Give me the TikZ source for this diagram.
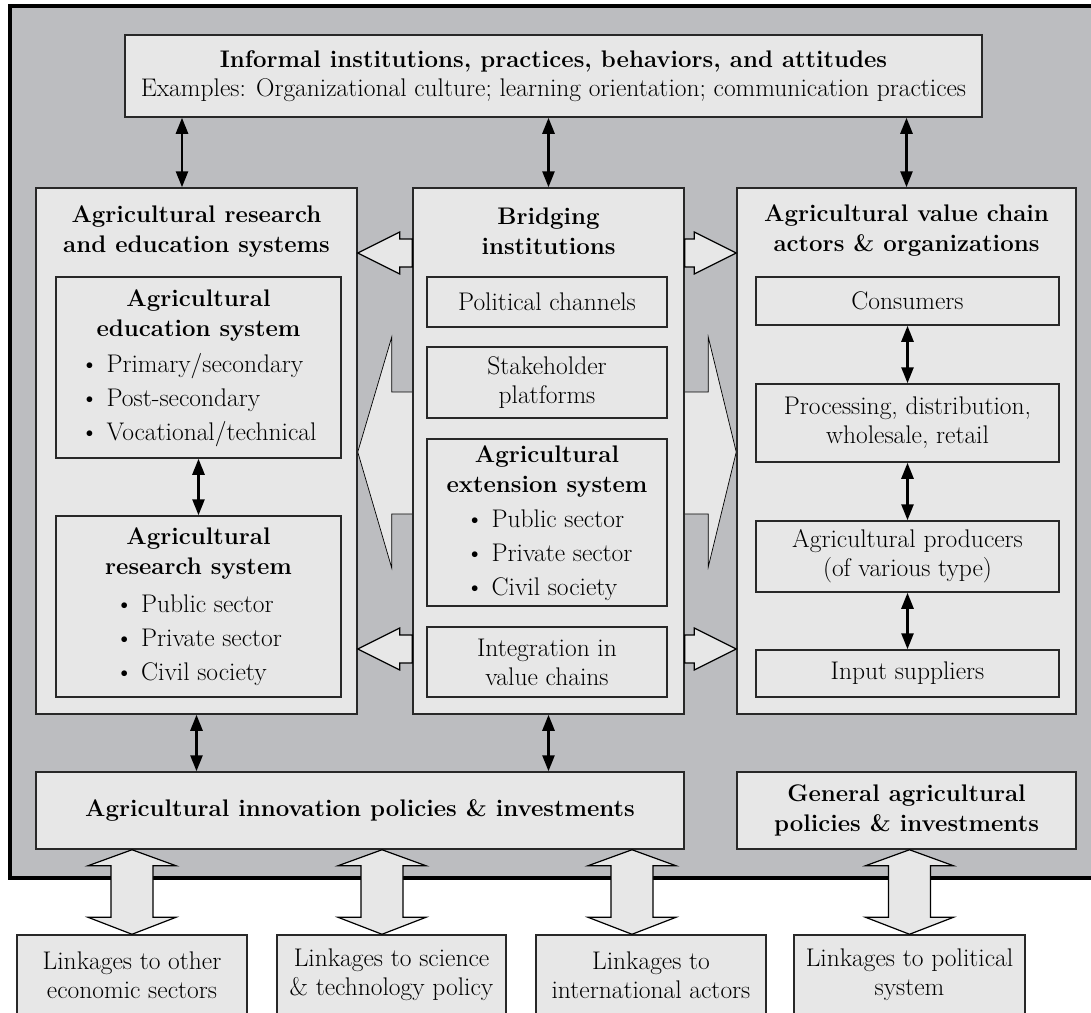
\documentclass[tikz,border=0pt]{standalone}
\usepackage{tikz}
\usetikzlibrary{arrows.meta, calc, backgrounds}
\definecolor{grisito}{RGB}{188,189,192}
\definecolor{blanquito}{RGB}{231,231,231}
\definecolor{bordecito}{RGB}{40,40,40}
\newcommand{\letra}{\fontsize{25.5}{29}\selectfont}
\newcommand{\negrita}{\fontsize{24}{30}\selectfont\bfseries}
\tikzset{>={Triangle[length=16pt,width=12pt]},
  caja/.style={draw=bordecito, line width=1.5pt, fill=blanquito, inner sep=0pt, align=center, font=\letra},
  titulo/.style={inner sep=0pt, align=center, font=\negrita},
  lista/.style={inner sep=0pt, align=left, font=\fontsize{25.5}{34}\selectfont},
  flechita/.style={<->, line width=2.6pt, black},
  flechota/.style={draw=black, line width=1.2pt, fill=blanquito, line join=miter}}
% fat horizontal arrow: tip, base, direction of the head
\newcommand{\hfat}[3]{\draw[flechota] (#1) -- ($(#1)+(#3*42,-21)$) -- ($(#1)+(#3*42,-14)$) -- ($(#2)+(0,-14)$) -- ($(#2)+(0,14)$) -- ($(#1)+(#3*42,14)$) -- ($(#1)+(#3*42,21)$) -- cycle;}
% fat vertical double arrow: top tip, bottom tip
\newcommand{\vfat}[2]{\draw[flechota] (#1) -- ($(#1)+(44,16)$) -- ($(#1)+(21,16)$) -- ($(#2)+(21,-17)$) -- ($(#2)+(44,-17)$) -- (#2) -- ($(#2)+(-44,-17)$) -- ($(#2)+(-21,-17)$) -- ($(#1)+(-21,16)$) -- ($(#1)+(-44,16)$) -- cycle;}

\begin{document}
\begin{tikzpicture}[x=1pt, y=-1pt]
	\useasboundingbox (0,0) rectangle (1091,1012);
	\clip (0,0) rectangle (1091,1012);

	\node[caja, minimum width=857pt, minimum height=82pt] (informal) at (553.5,76) {{\negrita Informal institutions, practices, behaviors, and attitudes}\\Examples: Organizational culture; learning orientation; communication practices};

	%three columns
	\node[caja, minimum width=321pt, minimum height=526pt] (ares) at (196.5,451) {};
	\node[caja, minimum width=271pt, minimum height=526pt] (bridg) at (548.5,451) {};
	\node[caja, minimum width=339pt, minimum height=526pt] (vchain) at (906.5,451) {};
	\node[titulo] (arestit) at (196.5,231) {Agricultural research\\and education systems};
	\node[titulo] (bridgtit) at (548.5,231) {Bridging\\institutions};
	\node[titulo] (vchaintit) at (906.5,231) {Agricultural value chain\\actors \& organizations};

	%research and education
	\node[caja, minimum width=285pt, minimum height=181pt] (edu) at (198.5,367.5) {};
	\node[titulo] (edutit) at (198.5,315) {Agricultural\\education system};
	\node[lista] (edulist) at (198.5,400) {\textbullet\ Primary/secondary\\\textbullet\ Post-secondary\\\textbullet\ Vocational/technical};
	\node[caja, minimum width=285pt, minimum height=181pt] (res) at (198.5,606.5) {};
	\node[titulo] (restit) at (198.5,553) {Agricultural\\research system};
	\node[lista] (reslist) at (198.5,640) {\textbullet\ Public sector\\\textbullet\ Private sector\\\textbullet\ Civil society};

	%bridging
	\node[caja, minimum width=240pt, minimum height=50pt] (polch) at (547,302) {Political channels};
	\node[caja, minimum width=240pt, minimum height=71pt] (stake) at (547,382.5) {Stakeholder\\platforms};
	\node[caja, minimum width=240pt, minimum height=167pt] (ext) at (547,522.5) {};
	\node[titulo] (exttit) at (547,471) {Agricultural\\extension system};
	\node[lista] (extlist) at (549,555) {\textbullet\ Public sector\\\textbullet\ Private sector\\\textbullet\ Civil society};
	\node[caja, minimum width=240pt, minimum height=70pt] (integ) at (547,662) {Integration in\\value chains};

	%value chain
	\node[caja, minimum width=303pt, minimum height=48pt] (cons) at (907.5,301) {Consumers};
	\node[caja, minimum width=303pt, minimum height=78pt] (proc) at (907.5,423) {Processing, distribution,\\wholesale, retail};
	\node[caja, minimum width=303pt, minimum height=71pt] (prod) at (907.5,556.5) {Agricultural producers\\(of various type)};
	\node[caja, minimum width=303pt, minimum height=47pt] (inp) at (907.5,673.5) {Input suppliers};

	%policies
	\node[caja, minimum width=648pt, minimum height=77pt, font=\negrita] (innov) at (360,810.5) {Agricultural innovation policies \& investments};
	\node[caja, minimum width=339pt, minimum height=77pt, font=\negrita] (genpol) at (906.5,810.5) {General agricultural\\policies \& investments};

	%linkages
	\node[caja, minimum width=230pt, minimum height=80pt] (link1) at (132,975) {Linkages to other\\economic sectors};
	\node[caja, minimum width=229pt, minimum height=80pt] (link2) at (391.5,975) {Linkages to science\\\& technology policy};
	\node[caja, minimum width=230pt, minimum height=80pt] (link3) at (651,975) {Linkages to\\international actors};
	\node[caja, minimum width=231pt, minimum height=80pt] (link4) at (909.5,975) {Linkages to political\\system};

	\begin{scope}[on background layer]
		\draw[line width=4pt, fill=grisito] (10,6) rectangle (1100,878);
		\coordinate (medio) at (548,452);
		\draw[flechota, line width=0.7pt] (ares.east |- medio) -- ++(34,-115) -- ++(0,55) -- ($(vchain.west |- medio)+(-28,-60)$) -- ++(0,-55) -- (vchain.west |- medio) -- ++(-28,115) -- ++(0,-53) -- ($(ares.east |- medio)+(34,62)$) -- ++(0,54) -- cycle;
	\end{scope}

	\coordinate (alto) at (0,253);
	\coordinate (bajo) at (0,649);
	\hfat{ares.east |- alto}{bridg.west |- alto}{1}
	\hfat{vchain.west |- alto}{bridg.east |- alto}{-1}
	\hfat{ares.east |- bajo}{bridg.west |- bajo}{1}
	\hfat{vchain.west |- bajo}{bridg.east |- bajo}{-1}

	\coordinate (f1) at ([xshift=-14.5pt]ares.north);
	\draw[flechita] (informal.south -| f1) -- (f1);
	\draw[flechita] (informal.south -| bridg.north) -- (bridg.north);
	\draw[flechita] (informal.south -| vchain.north) -- (vchain.north);
	\draw[flechita] (edu) -- (res);
	\draw[flechita] (cons) -- (proc);
	\draw[flechita] (proc) -- (prod);
	\draw[flechita] (prod) -- (inp);
	\draw[flechita] (ares.south) -- (innov.north -| ares.south);
	\draw[flechita] (bridg.south) -- (innov.north -| bridg.south);

	\coordinate (f2) at ([xshift=-9.5pt]link2.north);
	\coordinate (f3) at ([xshift=-19pt]link3.north);
	\vfat{innov.south -| link1.north}{link1.north}
	\vfat{innov.south -| f2}{f2}
	\vfat{innov.south -| f3}{f3}
	\vfat{genpol.south -| link4.north}{link4.north}
\end{tikzpicture}
\end{document}
